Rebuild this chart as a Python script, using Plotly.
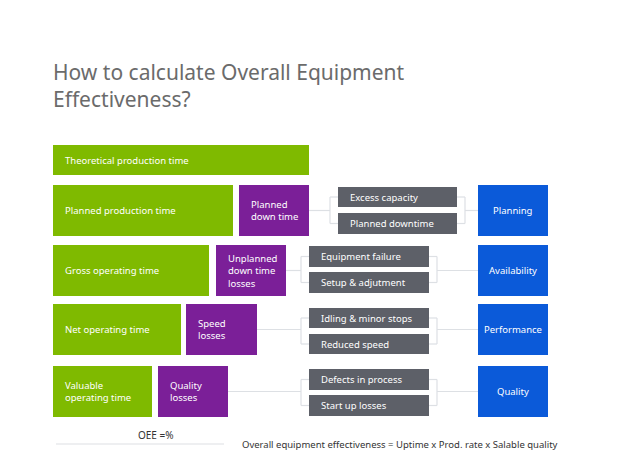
import plotly.graph_objects as go

# ---------- Data ----------
time_labels = ["Theoretical production time", "Planned production time", "Gross operating time",
               "Net operating time", "Valuable<br>operating time"]
time_ends = [301, 225, 201, 173, 144]          # green bar right edges
loss_labels = ["Planned<br>down time", "Unplanned<br>down time<br>losses", "Speed<br>losses", "Quality<br>losses"]
loss_spans = [(231, 301), (208, 278), (178, 249), (150, 220)]
cause_labels = [("Excess capacity", "Planned downtime"), ("Equipment failure", "Setup & adjutment"),
                ("Idling & minor stops", "Reduced speed"), ("Defects in process", "Start up losses")]
cause_x = [(330, 449), (301, 421), (301, 421), (301, 421)]
cause_y = [((179, 199), (205, 226)), ((238, 259), (264, 285)), ((300, 320), (326, 346)), ((361, 382), (387, 408))]
category_labels = ["Planning", "Availability", "Performance", "Quality"]

rows_y = [(137, 167), (177, 228), (237, 288), (296, 347), (358, 409)]

GREEN, PURPLE, GREY, BLUE, LINE = "#7fba00", "#7b1f98", "#5d6068", "#0b5ad9", "#dde0e4"
FONT = "Noto Sans"

fig = go.Figure()
shapes, annots = [], []


def box(x0, x1, y0, y1, color, text, xanchor="left", pad=10):
    shapes.append(dict(type="rect", x0=x0, x1=x1, y0=y0, y1=y1, fillcolor=color, line_width=0, layer="above"))
    tx = x0 + pad if xanchor == "left" else (x0 + x1) / 2
    annots.append(dict(x=tx, y=(y0 + y1) / 2, text=text, showarrow=False, xanchor=xanchor, align=xanchor,
                       font=dict(family=FONT, size=9.5, color="white")))


def line(x0, y0, x1, y1):
    shapes.append(dict(type="line", x0=x0, y0=y0, x1=x1, y1=y1, line=dict(color=LINE, width=1.2), layer="below"))


for i, (lab, end) in enumerate(zip(time_labels, time_ends)):
    y0, y1 = rows_y[i]
    box(45, end, y0, y1, GREEN, lab)

for i in range(4):
    y0, y1 = rows_y[i + 1]
    ym = (y0 + y1) / 2
    lx0, lx1 = loss_spans[i]
    box(lx0, lx1, y0, y1, PURPLE, loss_labels[i])
    cx0, cx1 = cause_x[i]
    ya, yb = cause_y[i]
    box(cx0, cx1, ya[0], ya[1], GREY, cause_labels[i][0])
    box(cx0, cx1, yb[0], yb[1], GREY, cause_labels[i][1])
    box(470, 540, y0, y1, BLUE, category_labels[i], xanchor="center")
    # connectors
    mid_a, mid_b = sum(ya) / 2, sum(yb) / 2
    line(lx1, ym, cx0 - 8, ym)
    line(cx0 - 8, mid_a, cx0 - 8, mid_b)
    line(cx0 - 8, mid_a, cx0, mid_a)
    line(cx0 - 8, mid_b, cx0, mid_b)
    line(cx1, mid_a, cx1 + 8, mid_a)
    line(cx1, mid_b, cx1 + 8, mid_b)
    line(cx1 + 8, mid_a, cx1 + 8, mid_b)
    line(cx1 + 8, ym, 470, ym)

# OEE arrow
line(48, 436, 216, 436)
annots.append(dict(x=148, y=427, text="OEE =%", showarrow=False, font=dict(family=FONT, size=10, color="#333")))
annots.append(dict(x=232, y=436, text="Overall equipment effectiveness = Uptime x Prod. rate x Salable quality",
                   showarrow=False, xanchor="left", font=dict(family=FONT, size=9.5, color="#333")))

# title
annots.append(dict(x=43, y=77, text="How to calculate Overall Equipment<br>Effectiveness?", showarrow=False,
                   xanchor="left", yanchor="middle", align="left",
                   font=dict(family=FONT, size=21, color="#6b6b6b")))

# invisible trace to establish axes
fig.add_trace(go.Scatter(x=[0, 638], y=[0, 475], mode="markers", marker_opacity=0, hoverinfo="skip"))

fig.update_layout(
    width=638, height=475, margin=dict(l=0, r=0, t=0, b=0),
    plot_bgcolor="white", paper_bgcolor="white", showlegend=False,
    shapes=shapes, annotations=annots,
    xaxis=dict(range=[0, 638], visible=False),
    yaxis=dict(range=[475, 0], visible=False),
)

fig.write_html("out.html")
